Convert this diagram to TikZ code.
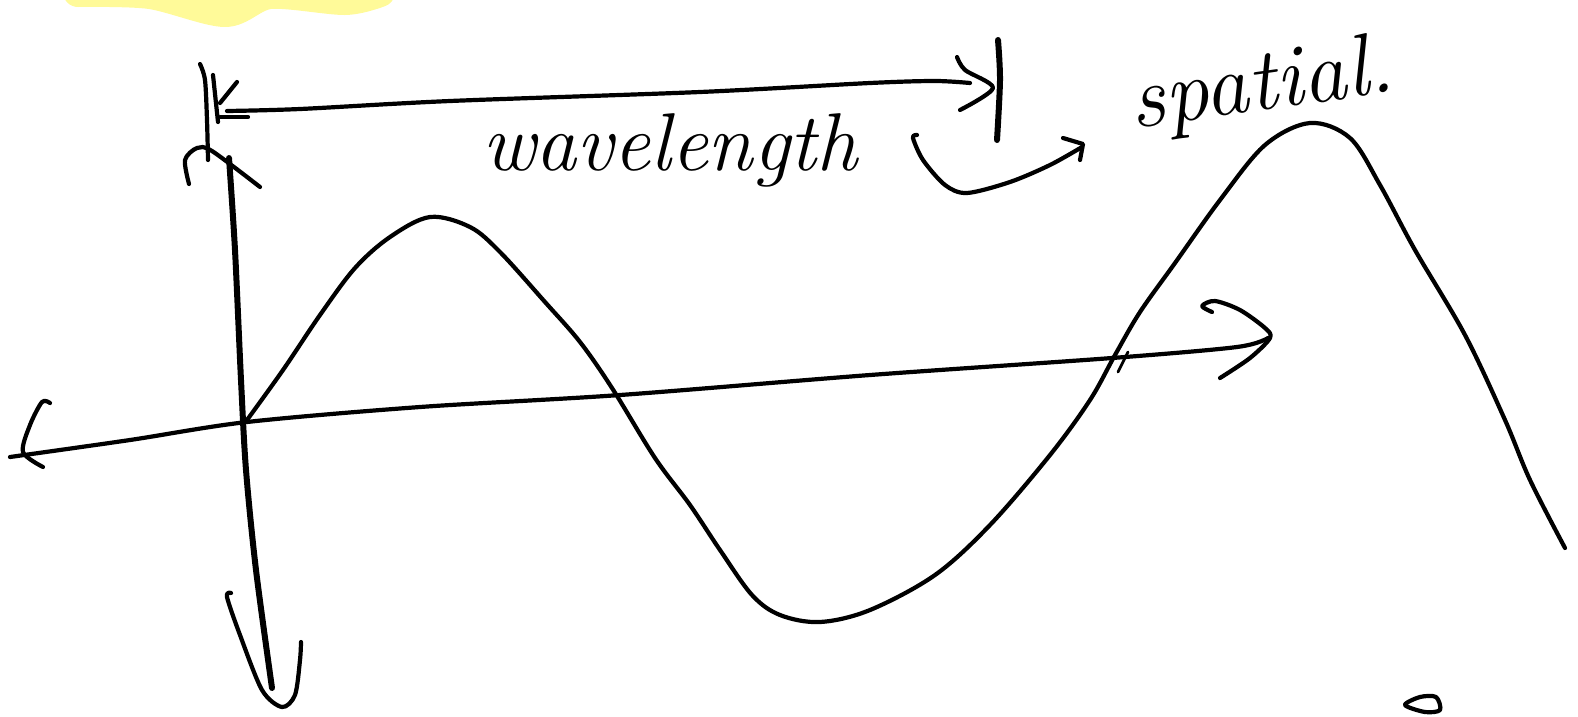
\documentclass[tikz,border=0pt]{standalone}
\usetikzlibrary{arrows.meta, positioning}
\begin{document}
\begin{tikzpicture}[x=1pt, y=-1pt,
  ink/.style={line width=4.2pt, line cap=round, line join=round},
  boldink/.style={line width=6pt, line cap=round, line join=round},
  fineink/.style={line width=2.8pt, line cap=round},
  hand/.style={font=\fontsize{82}{82}\selectfont\itshape, inner sep=0pt},
  glow/.style={line width=30pt, line cap=round, line join=round, yellow!40}
]
  \useasboundingbox (0,0) rectangle (1578,716);
  % highlighter smear at the top
  \draw[glow] plot[smooth] coordinates {(78,-8) (150,-6) (225,12) (270,-6) (345,0) (380,-8)};

  % wavelength marker
  \draw[ink] plot[smooth] coordinates {(200,64) (205,80) (207,120) (208,160)};
  \draw[ink] (213,75) -- (218,122);
  \draw[ink] (237,82) -- (220,103);
  \draw[ink] (220,117) -- (248,117);
  \draw[ink] plot[smooth] coordinates {(227,111) (300,109) (450,101) (700,92) (870,83) (935,81) (970,83)};
  \draw[ink] plot[smooth] coordinates {(957,57) (965,70) (993,88) (960,110)};
  \draw[boldink] plot[smooth] coordinates {(998,40) (1000,80) (997,140)};
  \node[hand] (wlen) at (670,150) {wavelength};

  % turn-over arrow and label
  \draw[ink] plot[smooth] coordinates {(917,135) (913,138) (923,160) (945,185) (967,193) (1010,182) (1050,165) (1082,147)};
  \draw[ink] (1063,138) -- (1083,144) -- (1080,160);
  \node[hand, font=\fontsize{88}{88}\selectfont\itshape, rotate=8] (spat) at (1262,88) {spatial.};

  % axes
  \draw[boldink] plot[smooth] coordinates {(229,158) (235,250) (241,380) (246,470) (256,570) (272,688)};
  \draw[ink] plot[smooth] coordinates {(189,184) (185,160) (197,148) (212,151) (260,187)};
  \draw[ink] plot[smooth] coordinates {(231,593) (227,597) (240,635) (262,690) (282,707) (295,695) (300,660) (301,642)};
  \draw[ink] plot[smooth] coordinates {(10,457) (130,440) (247,422) (420,407) (620,395) (870,375) (1112,358) (1237,347) (1268,338)};
  \draw[ink] plot[smooth] coordinates {(50,403) (42,402) (30,425) (23,452) (43,467)};
  \draw[ink] plot[smooth] coordinates {(1212,312) (1202,306) (1215,301) (1240,310) (1265,328) (1270,338) (1250,358) (1220,378)};

  % the wave
  \draw[ink] plot[smooth, tension=0.55] coordinates {(247,420) (283,370) (320,315) (355,268) (390,237) (430,217) (470,227) (500,252) (545,302) (580,342) (612,388) (655,458) (690,505) (720,550) (752,595) (780,615) (820,622) (870,610) (935,575) (990,525) (1050,455) (1090,400) (1115,355) (1140,312) (1175,263) (1220,200) (1265,145) (1310,123) (1350,138) (1380,185) (1415,250) (1465,335) (1505,420) (1530,480) (1565,548)};
  \draw[fineink] (1128,352) -- (1118,372);

  % stray mark
  \draw[ink] plot[smooth cycle] coordinates {(1405,705) (1420,697) (1436,697) (1440,710) (1425,712)};
\end{tikzpicture}
\end{document}
